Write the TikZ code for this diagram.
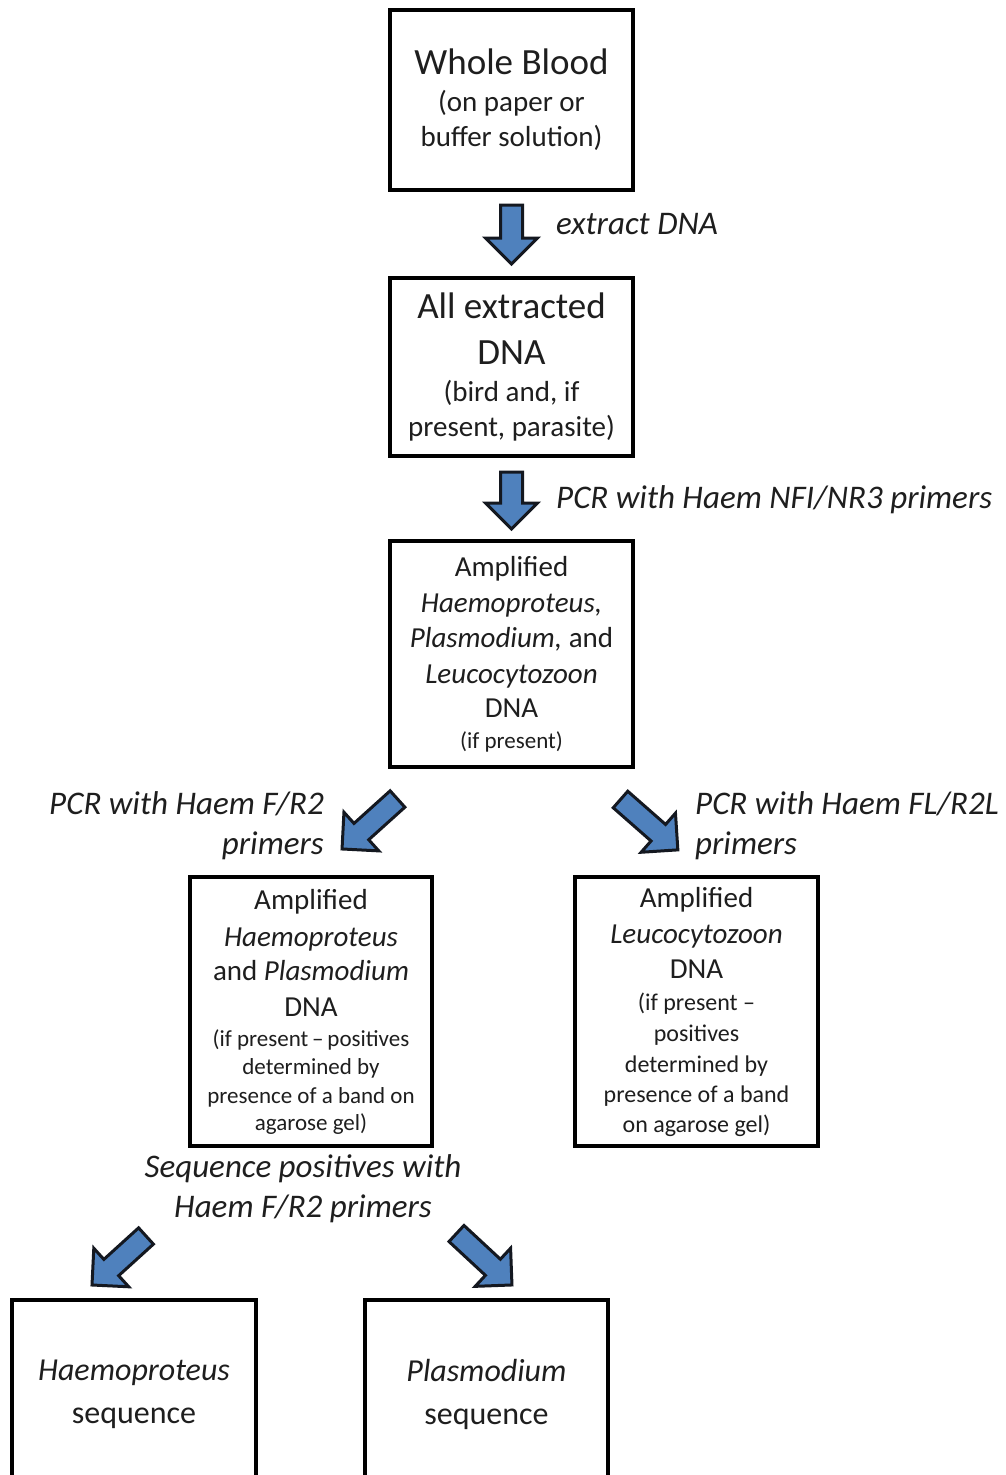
\documentclass[tikz,border=0pt]{standalone}
\usepackage{fontspec}
\setmainfont{Carlito}
\usetikzlibrary{calc}
\definecolor{arrowblue}{RGB}{79,129,189}
\definecolor{arrowedge}{RGB}{20,24,32}
\definecolor{inktext}{RGB}{30,30,30}
\tikzset{
  box/.style={draw=black, line width=4pt, inner sep=0pt, align=center, text=inktext,
    font=\fontsize{29}{35}\selectfont},
  steplabel/.style={inner sep=0pt, text=inktext, font=\fontsize{33}{40}\selectfont\itshape},
  barrow/.style={fill=arrowblue, draw=arrowedge, line width=3pt, line join=miter}
}
\newcommand\blockarrow[2]{%
  \path let \p1=($(#2)-(#1)$) in \pgfextra{%
    \pgfmathsetmacro\baang{atan2(\y1,\x1)}%
    \pgfmathsetmacro\balen{veclen(\x1,\y1)}%
    \global\let\baang\baang\global\let\balen\balen};
  \draw[barrow, shift={(#1)}, rotate=\baang]
    (0pt,11pt) -- ({\balen pt-26pt},11pt) -- ({\balen pt-26pt},26pt) -- ({\balen pt},0pt)
    -- ({\balen pt-26pt},-26pt) -- ({\balen pt-26pt},-11pt) -- (0pt,-11pt) -- cycle;
}
\newcommand\smalltext{\fontsize{23}{29}\selectfont}
\newcommand\midtext{\fontsize{24}{30}\selectfont}
\newcommand\bigtext{\fontsize{37}{46}\selectfont}
\begin{document}
\begin{tikzpicture}[x=1pt,y=-1pt]
\useasboundingbox (0,0) rectangle (1005,1475);
\clip (0,0) rectangle (1005,1475);
\fill[white] (0,0) rectangle (1005,1475);

\node[box, minimum width=243pt, minimum height=180pt] (b1) at (511.5,100)
  {{\bigtext Whole Blood}\\[2pt] (on paper or\\ buffer solution)};
\node[box, minimum width=243pt, minimum height=178pt] (b2) at (511.5,367)
  {{\bigtext All extracted}\\[11pt] {\bigtext DNA}\\[2pt] (bird and, if\\ present, parasite)};
\node[box, minimum width=243pt, minimum height=226pt] (b3) at (511.5,654)
  {Amplified\\[1pt] \textit{Haemoproteus,}\\ \textit{Plasmodium,} and\\[1pt] \textit{Leucocytozoon}\\[-1pt] DNA\\[-4pt] {\smalltext (if present)}};
\node[box, minimum width=242pt, minimum height=269pt] (b4) at (311,1011.5)
  {Amplified\\[2pt] \textit{Haemoproteus}\\[-1pt] and \textit{Plasmodium}\\[1pt] DNA\\[-5pt]
   {\smalltext (if present\,--\,positives}\\[-7pt] {\smalltext determined by}\\[-6pt]
   {\smalltext presence of a band on}\\[-8pt] {\smalltext agarose gel)}};
\node[box, minimum width=243pt, minimum height=269pt] (b5) at (696.5,1011.5)
  {Amplified\\[1pt] \textit{Leucocytozoon}\\[0pt] DNA\\[-3pt]
   {\midtext (if present --}\\[-4pt] {\midtext positives}\\[-4pt]
   {\midtext determined by}\\[-5pt] {\midtext presence of a band}\\[-5pt]
   {\midtext on agarose gel)}};
\node[box, minimum width=244pt, minimum height=200pt, font=\fontsize{32}{43}\selectfont] (b6) at (134,1400)
  {\textit{Haemoproteus}\\ sequence\\[-26pt]};
\node[box, minimum width=243pt, minimum height=200pt, font=\fontsize{32}{43}\selectfont] (b7) at (486.5,1400)
  {\textit{Plasmodium}\\ sequence\\[-26pt]};

% block arrows
\coordinate (a1s) at ($(b1.south)+(0,13)$);
\coordinate (a1e) at ($(b2.north)+(0,-12)$);
\coordinate (a2s) at ($(b2.south)+(0,14)$);
\coordinate (a2e) at ($(b3.north)+(0,-10)$);
\coordinate (a3s) at ($(b3.south)+(-114,30)$);
\coordinate (a3e) at ($(b4.north)+(31,-26)$);
\coordinate (a4s) at ($(b3.south)+(109,30.5)$);
\coordinate (a4e) at ($(b5.north)+(-18.5,-25)$);
\coordinate (a5s) at ($(b4.south)+(-165,88)$);
\coordinate (a5e) at ($(b6.north)+(-42,-13)$);
\coordinate (a6s) at ($(b4.south)+(145.5,85.5)$);
\coordinate (a6e) at ($(b7.north)+(25.5,-13)$);
\blockarrow{a1s}{a1e}
\blockarrow{a2s}{a2e}
\blockarrow{a3s}{a3e}
\blockarrow{a4s}{a4e}
\blockarrow{a5s}{a5e}
\blockarrow{a6s}{a6e}

% labels
\node[steplabel, anchor=west] (l1) at (556,224) {extract DNA};
\node[steplabel, anchor=west] (l2) at (556,500) {PCR with Haem NFI/NR3 primers};
\node[steplabel, anchor=north east, align=right] (l3) at (324,791) {PCR with Haem F/R2\\ primers};
\node[steplabel, anchor=north west, align=left] (l4) at (695,791) {PCR with Haem FL/R2L\\ primers};
\node[steplabel, anchor=north, align=center] (l5) at (303,1154) {Sequence positives with\\ Haem F/R2 primers};
\end{tikzpicture}
\end{document}
